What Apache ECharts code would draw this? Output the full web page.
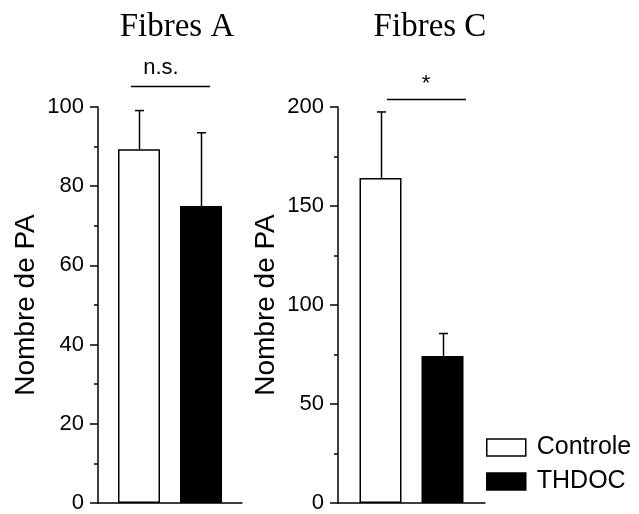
<!DOCTYPE html>
<html>
<head>
<meta charset="utf-8">
<script src="https://cdn.jsdelivr.net/npm/echarts@6/dist/echarts.min.js"></script>
<style>
  html, body { margin: 0; padding: 0; background: #fff; }
  #chart { width: 639px; height: 514px; }
</style>
</head>
<body>
<div id="chart"></div>
<script>
// données
const groups = ['Fibres A', 'Fibres C']
const seriesNames = ['Controle', 'THDOC']
const meanA = [89.3, 75.0]
const errA = [9.8, 18.5]
const meanC = [164.2, 74.3]
const errC = [33.3, 11.3]
const ticksA = [0, 20, 40, 60, 80, 100]
const ticksC = [0, 50, 100, 150, 200]
const signif = ['n.s.', '*']

const BAR_W = 42
const BAR_GAP = 20
const FONT = '"Liberation Sans", Arial, sans-serif'

const chart = echarts.init(document.getElementById('chart'))

const errorSeries = (idx, means, errs) => ({
  type: 'custom',
  xAxisIndex: idx,
  yAxisIndex: idx,
  z: 1,
  silent: true,
  data: means.map((m, i) => [0, m, errs[i], i === 0 ? -1 : 1]),
  renderItem: (params, api) => {
    const base = api.coord([api.value(0), api.value(1)])
    const top = api.coord([api.value(0), api.value(1) + api.value(2)])
    const x = Math.round(base[0] + api.value(3) * (BAR_W + BAR_GAP) / 2) + 0.5
    const style = { stroke: '#000', lineWidth: 1.5 }
    return {
      type: 'group',
      children: [
        { type: 'line', shape: { x1: x, y1: base[1], x2: x, y2: top[1] }, style },
        { type: 'line', shape: { x1: x - 4.5, y1: top[1], x2: x + 4.5, y2: top[1] }, style }
      ]
    }
  }
})

const barSeries = (idx, name, value, color) => ({
  type: 'bar',
  name,
  xAxisIndex: idx,
  yAxisIndex: idx,
  z: 2,
  barWidth: BAR_W,
  barGap: (BAR_GAP / BAR_W * 100) + '%',
  data: [value],
  itemStyle: { color, borderColor: '#000', borderWidth: 1.5 }
})

const yAxisBase = (idx, ticks) => ({
  gridIndex: idx,
  type: 'value',
  min: ticks[0],
  max: ticks[ticks.length - 1],
  interval: ticks[1] - ticks[0],
  name: 'Nombre de PA',
  nameLocation: 'middle',
  nameGap: 58,
  nameTextStyle: { fontFamily: FONT, fontSize: 28, color: '#000' },
  axisLine: { show: true, lineStyle: { color: '#000', width: 1.5 } },
  axisTick: { show: true, length: 8, lineStyle: { color: '#000', width: 1.5 } },
  minorTick: { show: true, splitNumber: 2, length: 4, lineStyle: { color: '#000', width: 1.5 } },
  axisLabel: { fontFamily: FONT, fontSize: 22, color: '#000', margin: 14 },
  splitLine: { show: false }
})

const xAxisBase = (idx, label) => ({
  gridIndex: idx,
  type: 'category',
  data: [label],
  axisLine: { show: true, lineStyle: { color: '#000', width: 1.5 } },
  axisTick: { show: false },
  axisLabel: { show: false }
})

const titleText = (x, text) => ({
  type: 'text', x, y: 27,
  style: { text, font: '33px "Liberation Serif", "Times New Roman", serif', fill: '#000', align: 'center', verticalAlign: 'middle' }
})

chart.setOption({
  animation: false,
  grid: [
    { left: 98, top: 107, width: 144, bottom: 10 },
    { left: 338, top: 107, width: 147, bottom: 10 }
  ],
  xAxis: [xAxisBase(0, groups[0]), xAxisBase(1, groups[1])],
  yAxis: [yAxisBase(0, ticksA), yAxisBase(1, ticksC)],
  legend: {
    orient: 'vertical',
    left: 486,
    top: 435,
    padding: 0,
    itemWidth: 39,
    itemHeight: 17,
    itemGap: 9,
    icon: 'rect',
    textStyle: { fontFamily: FONT, fontSize: 25, lineHeight: 17, color: '#000', padding: [0, 0, 0, 6] },
    data: [
      { name: seriesNames[0], itemStyle: { color: '#fff', borderColor: '#000', borderWidth: 1.5 } },
      { name: seriesNames[1], itemStyle: { color: '#000', borderColor: '#000', borderWidth: 1.5 } }
    ]
  },
  graphic: [
    titleText(177, groups[0]),
    titleText(430, groups[1]),
    { type: 'text', x: 161, y: 68, style: { text: signif[0], font: '22px ' + FONT, fill: '#000', align: 'center', verticalAlign: 'middle' } },
    { type: 'line', shape: { x1: 131, y1: 86.5, x2: 210, y2: 86.5 }, style: { stroke: '#000', lineWidth: 1.5 } },
    { type: 'text', x: 426, y: 84, style: { text: signif[1], font: '22px ' + FONT, fill: '#000', align: 'center', verticalAlign: 'middle' } },
    { type: 'line', shape: { x1: 387, y1: 99.5, x2: 466, y2: 99.5 }, style: { stroke: '#000', lineWidth: 1.5 } }
  ],
  series: [
    barSeries(0, seriesNames[0], meanA[0], '#fff'),
    barSeries(0, seriesNames[1], meanA[1], '#000'),
    barSeries(1, seriesNames[0], meanC[0], '#fff'),
    barSeries(1, seriesNames[1], meanC[1], '#000'),
    errorSeries(0, meanA, errA),
    errorSeries(1, meanC, errC)
  ]
})
</script>
</body>
</html>
